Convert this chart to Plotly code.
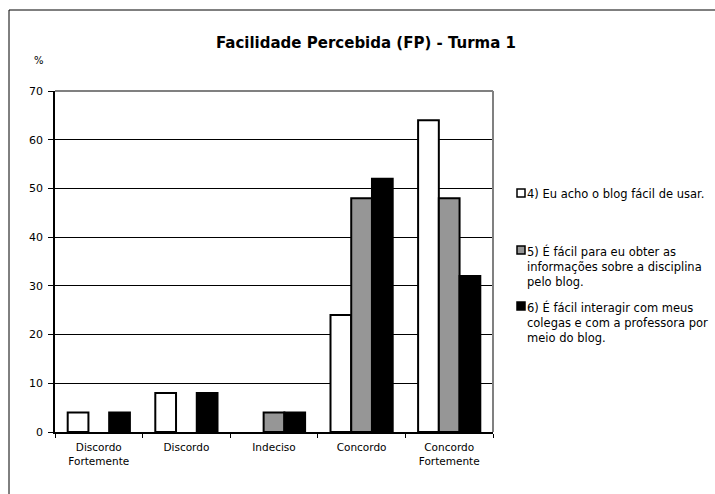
import plotly.graph_objects as go

# Survey answers (percent of students) for each statement
categories = ["Discordo<br>Fortemente", "Discordo", "Indeciso", "Concordo", "Concordo<br>Fortemente"]
q4_values = [4, 8, 0, 24, 64]
q5_values = [0, 0, 4, 48, 48]
q6_values = [4, 8, 4, 52, 32]

legend_labels = [
    "4) Eu acho o blog fácil de usar.",
    "5) É fácil para eu obter as<br>informações sobre a disciplina<br>pelo blog.",
    "6) É fácil interagir com meus<br>colegas e com a professora por<br>meio do blog.",
]
bar_colors = ["#ffffff", "#969696", "#000000"]

W, H = 715, 494
L, R, T, B = 55, 493, 91, 432
FONT = "DejaVu Sans, Verdana, sans-serif"


def px_x(x):
    return (x - L) / (R - L)


def px_y(y):
    return (B - y) / (B - T)


fig = go.Figure()
for vals, col, name in zip([q4_values, q5_values, q6_values], bar_colors, legend_labels):
    # zero answers leave an empty slot (no outlined sliver)
    fig.add_trace(go.Bar(
        x=categories, y=[v if v != 0 else None for v in vals], name=name,
        marker=dict(color=col, line=dict(color="#000000", width=2)),
        showlegend=False,
    ))

shapes = [
    # grey top and right frame of the plot area
    dict(type="line", xref="paper", yref="paper", x0=0, x1=1, y0=1, y1=1,
         line=dict(color="#808080", width=2)),
    dict(type="line", xref="paper", yref="paper", x0=1, x1=1, y0=0, y1=1,
         line=dict(color="#808080", width=2)),
    # outer chart border
    dict(type="rect", xref="paper", yref="paper",
         x0=px_x(9), x1=px_x(740), y0=px_y(520), y1=px_y(10),
         line=dict(color="#000000", width=1), fillcolor="rgba(0,0,0,0)"),
]

annotations = [
    dict(text="%", xref="paper", yref="paper", x=px_x(32), y=px_y(53),
         showarrow=False, font=dict(family=FONT, size=10, color="#000")),
]

# legend drawn beside the plot
legend_tops = [193, 250, 306]
for lab, col, ytop in zip(legend_labels, bar_colors, legend_tops):
    shapes.append(dict(type="rect", xref="paper", yref="paper",
                       x0=px_x(517), x1=px_x(525), y0=px_y(ytop + 4), y1=px_y(ytop - 4),
                       line=dict(color="#000", width=1.5), fillcolor=col))
    annotations.append(dict(text=lab, xref="paper", yref="paper",
                            x=px_x(525), y=px_y(ytop - 8), xanchor="left", yanchor="top",
                            align="left", showarrow=False,
                            font=dict(family=FONT, size=11.5, color="#000")))

fig.update_layout(
    width=W, height=H,
    margin=dict(l=L, r=W - R, t=T, b=H - B),
    paper_bgcolor="#ffffff", plot_bgcolor="#ffffff",
    barmode="group", bargap=0.29, bargroupgap=0,
    title=dict(text="<b>Facilidade Percebida (FP) - Turma 1</b>",
               xref="container", yref="container", x=366 / W, y=1 - 43 / H,
               xanchor="center", yanchor="middle",
               font=dict(family=FONT, size=15, color="#000")),
    font=dict(family=FONT, size=10, color="#000"),
    shapes=shapes, annotations=annotations,
)
fig.update_xaxes(
    showline=True, linecolor="#000", linewidth=1.5,
    ticks="outside", tickson="boundaries", ticklen=4, tickcolor="#000",
    ticklabelstandoff=5,
    showgrid=False, tickfont=dict(family=FONT, size=10.5, color="#000"),
)
fig.update_yaxes(
    range=[0, 70], dtick=10, showline=True, linecolor="#000", linewidth=1.5,
    ticks="outside", ticklen=5, tickcolor="#000", ticklabelstandoff=3,
    showgrid=True, gridcolor="#000", gridwidth=1, zeroline=False,
    tickfont=dict(family=FONT, size=11, color="#000"),
)

fig.write_html("out.html")
